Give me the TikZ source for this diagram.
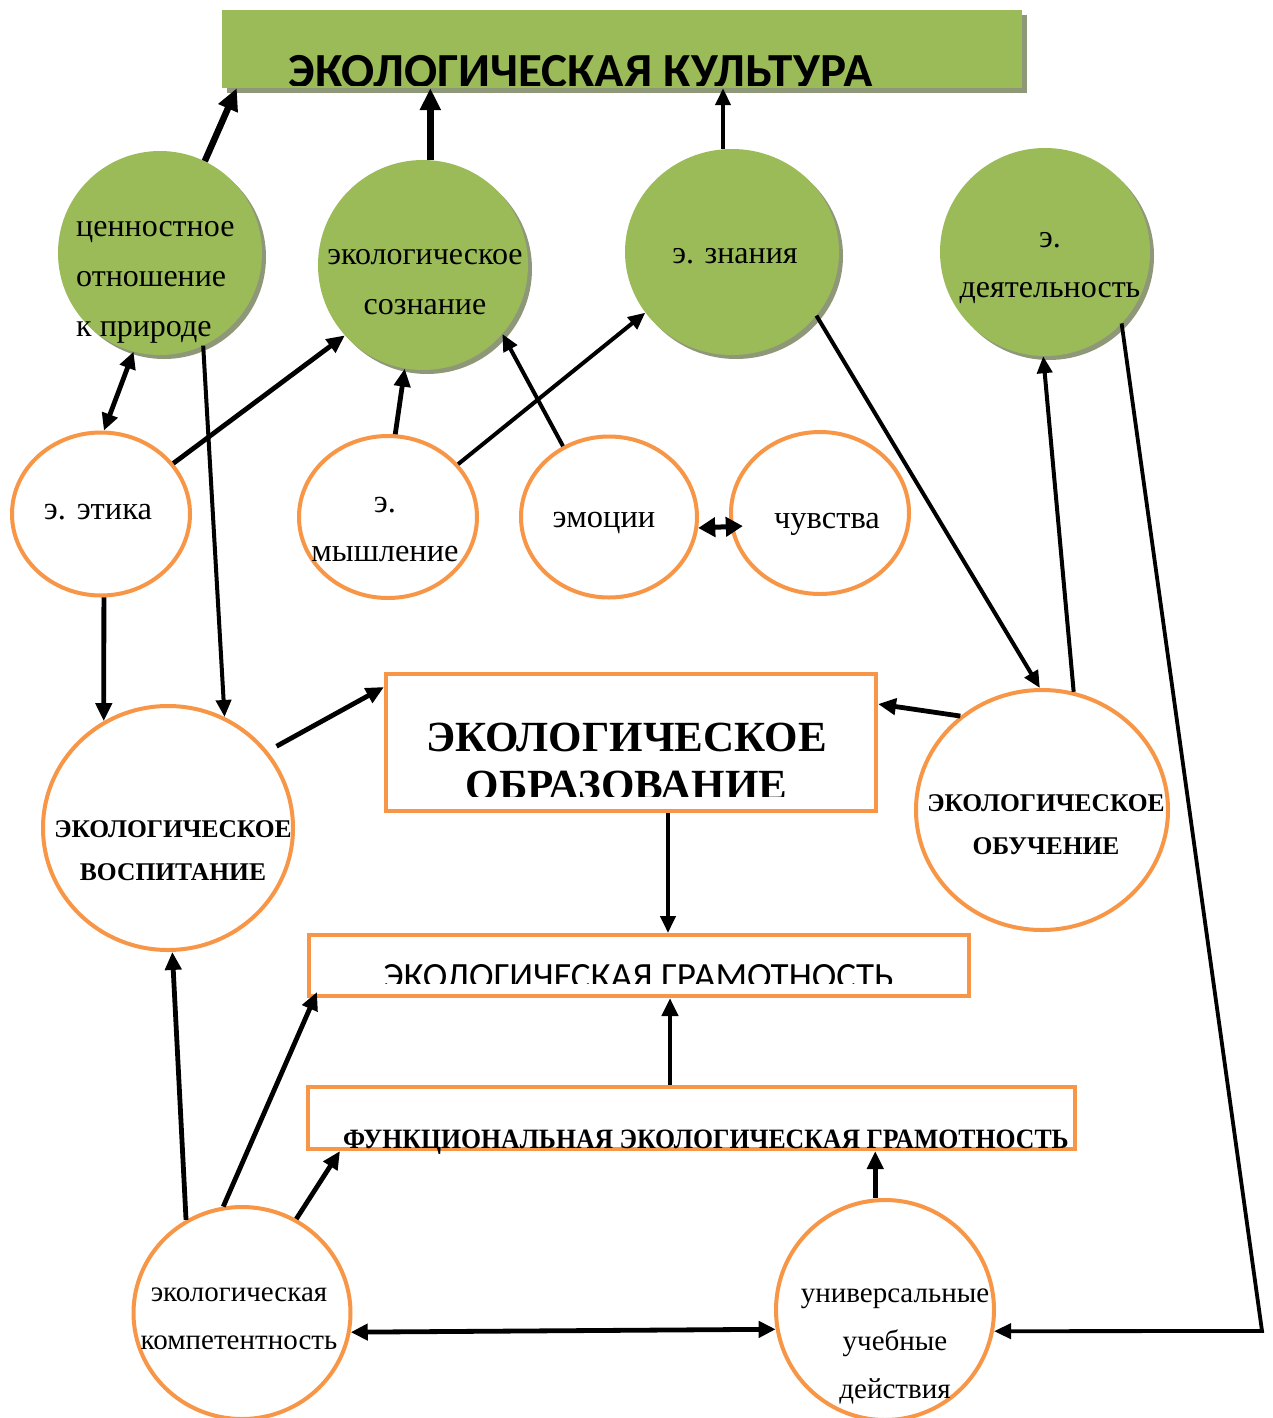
\documentclass[tikz,border=0pt]{standalone}
\usepackage{fontspec}
\setmainfont{Liberation Serif}
\newfontfamily\calib{Carlito}
\usetikzlibrary{arrows.meta,shapes.geometric,shadows}
\definecolor{egreen}{HTML}{9BBB59}
\definecolor{eorange}{HTML}{F79646}
\definecolor{eshadow}{HTML}{8E9878}
\begin{document}
\begin{tikzpicture}[x=1pt,y=-1pt,
  gcirc/.style={ellipse,fill=egreen,inner sep=0pt,
    drop shadow={shadow xshift=4pt,shadow yshift=-4pt,fill=eshadow,opacity=1}},
  ocirc/.style={ellipse,draw=eorange,line width=4pt,fill=white,inner sep=0pt},
  obox/.style={rectangle,draw=eorange,line width=4pt,fill=white,inner sep=0pt},
  txt/.style={font=\fontsize{32}{50}\selectfont,align=center,inner sep=0pt},
  otxt/.style={font=\fontsize{32.5}{49}\selectfont,align=center,inner sep=0pt},
  ltxt/.style={font=\fontsize{29}{48}\selectfont,align=center,inner sep=0pt},
  btxt/.style={font=\fontsize{25.5}{43}\selectfont\bfseries,align=center,inner sep=0pt},
  arr/.style={line width=4.8pt,-{Triangle[length=18pt,width=16pt]}},
  thinarr/.style={line width=4pt,-{Triangle[length=17pt,width=15pt]}},
  thickarr/.style={line width=6.5pt,-{Triangle[length=22pt,width=20pt]}},
  darr/.style={line width=4.8pt,{Triangle[length=17pt,width=16pt]}-{Triangle[length=17pt,width=16pt]}},
  sdarr/.style={line width=5pt,{Triangle[length=17pt,width=19pt]}-{Triangle[length=17pt,width=19pt]}},
]
\useasboundingbox[fill=white] (0,0) rectangle (1272,1418);

% banner
\node[rectangle,fill=egreen,minimum width=800pt,minimum height=78pt,inner sep=0pt,
  drop shadow={shadow xshift=5pt,shadow yshift=-5pt,fill=eshadow,opacity=1}] (banner) at (622,49) {};
\begin{scope}
  \clip (222,10) rectangle (1022,86);
  \node[anchor=base,inner sep=0pt,font=\calib\fontsize{49}{52}\selectfont\bfseries] (bannertxt) at (581,88) {ЭКОЛОГИЧЕСКАЯ КУЛЬТУРА};
\end{scope}

% green circles
\node[gcirc,minimum width=204pt,minimum height=204pt] (c1) at (160,253) {};
\node[gcirc,minimum width=210pt,minimum height=210pt] (c2) at (423,265) {};
\node[gcirc,minimum width=214pt,minimum height=206pt] (c3) at (732,252) {};
\node[gcirc,minimum width=210pt,minimum height=208pt] (c4) at (1045,252) {};
\node[txt,align=left,anchor=west] (t1) at (76,282) {ценностное\\отношение\\к природе};
\node[txt] (t2) at (425,282) {экологическое\\сознание};
\node[txt] (t3) at (735,256) {э. знания};
\node[txt] (t4) at (1050,268) {э.\\деятельность};

% orange circles
\node[ocirc,minimum width=178pt,minimum height=163pt] (o1) at (101,514) {};
\node[ocirc,minimum width=178pt,minimum height=162pt] (o2) at (388,517) {};
\node[ocirc,minimum width=176pt,minimum height=161pt] (o3) at (609,517) {};
\node[ocirc,minimum width=178pt,minimum height=162pt] (o4) at (820,513) {};
\node[ocirc,minimum width=250pt,minimum height=244pt] (o5) at (168,828) {};
\node[ocirc,minimum width=252pt,minimum height=240pt] (o6) at (1042,810) {};
\node[ocirc,minimum width=217pt,minimum height=212pt] (o7) at (242,1313) {};
\node[ocirc,minimum width=218pt,minimum height=220pt] (o8) at (885,1310) {};
\node[otxt] (t5) at (98,512) {э. этика};
\node[otxt] (t6) at (385,529) {э.\\мышление};
\node[otxt] (t7) at (604,523) {эмоции};
\node[otxt] (t8) at (827,524) {чувства};
\node[btxt] (t9) at (173,851) {ЭКОЛОГИЧЕСКОЕ\\ВОСПИТАНИЕ};
\node[btxt] (t10) at (1046,825) {ЭКОЛОГИЧЕСКОЕ\\ОБУЧЕНИЕ};
\node[ltxt] (t11) at (239,1319) {экологическая\\компетентность};
\node[ltxt] (t12) at (895,1346) {универсальные\\учебные\\действия};

% boxes
\node[obox,minimum width=490pt,minimum height=137pt] (R1) at (631,742.5) {};
\node[obox,minimum width=660pt,minimum height=61pt] (R2) at (639,965.5) {};
\node[obox,minimum width=767pt,minimum height=62pt] (R3) at (691.5,1118) {};
\begin{scope}
  \clip (388,676) rectangle (874,796);
  \node[font=\fontsize{43}{48}\selectfont\bfseries,align=center,inner sep=0pt] (t13) at (626.5,761) {ЭКОЛОГИЧЕСКОЕ\\ОБРАЗОВАНИЕ};
\end{scope}
\begin{scope}
  \clip (311,937) rectangle (967,983);
  \node[anchor=base,inner sep=0pt,font=\calib\fontsize{37}{40}\selectfont] (t14) at (638.5,988) {ЭКОЛОГИЧЕСКАЯ ГРАМОТНОСТЬ};
\end{scope}
\node[anchor=base,inner sep=0pt,font=\fontsize{28}{32}\selectfont\bfseries] (t15) at (706,1148) {\scalebox{0.92}[1]{ФУНКЦИОНАЛЬНАЯ ЭКОЛОГИЧЕСКАЯ ГРАМОТНОСТЬ}};

% arrows to banner
\draw[thickarr] (c1.64) -- ([xshift=15pt]banner.south west);
\draw[thickarr] (c2.86) -- (banner.south -| c2.86);
\draw[thinarr] (c3.95) -- (banner.south -| c3.95);

% upper connections
\draw[darr] (c1.255) -- (o1.88);
\draw[arr] (o1.35) -- (c2.222);
\draw[arr] (o2.85) -- (c2.260);
\draw[thinarr] (o3.123) -- (c2.319);
\draw[thinarr] (o2.37) -- (c3.215);
\coordinate (q9) at ([xshift=13pt,yshift=-2pt]o4.187);
\draw[sdarr] (o3.353) -- (q9);
\draw[thinarr] (c3.323) -- (o6.91);
\draw[thinarr] (o6.75) -- (c4.269);
\coordinate (k) at (1262,1331);
\draw[line width=3.8pt,-{Triangle[length=17pt,width=15pt]}] (c4.317) -- (k) -- (o8.349);
\draw[thinarr] (c1.295) -- (o5.63);
\draw[arr] (o1.272) -- (o5.121);

% middle
\coordinate (p15) at ([xshift=8pt,yshift=6pt]o5.37);
\coordinate (p17) at ([xshift=37pt]R1.south);
\coordinate (p18) at ([xshift=-21.5pt]R3.north);
\draw[arr] (p15) -- ([yshift=-15pt]R1.north west);
\draw[arr] (o6.131) -- ([yshift=-32pt]R1.north east);
\draw[thinarr] (p17) -- (R2.north -| p17);
\draw[arr] (p18) -- (R2.south -| p18);

% bottom
\draw[arr] (o7.121) -- (o5.272);
\draw[arr] (o7.100) -- ([xshift=10pt,yshift=6pt]R2.south west);
\draw[arr] (o7.60) -- ([xshift=34pt]R3.south west);
\draw[arr] (o8.95) -- (R3.south -| o8.95);
\draw[darr] (o7.350) -- (o8.190);
\end{tikzpicture}
\end{document}
